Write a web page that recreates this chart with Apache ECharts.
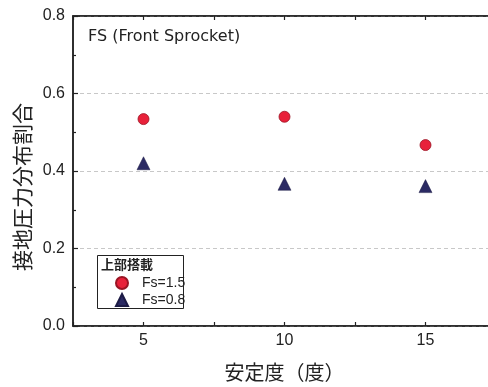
<!DOCTYPE html>
<html>
<head>
<meta charset="utf-8">
<script src="https://cdn.jsdelivr.net/npm/echarts@6/dist/echarts.min.js"></script>
<style>
  html, body { margin: 0; padding: 0; background: #fff; }
  #chart { width: 488px; height: 387px; }
</style>
</head>
<body>
<div id="chart"></div>
<script>
// Stability (degrees) on the x axis
const stability = [5, 10, 15];
// Contact pressure distribution ratio for each upper-load case
const fs15 = [0.534, 0.540, 0.467];
const fs08 = [0.420, 0.367, 0.361];
const seriesNames = ['Fs=1.5', 'Fs=0.8'];
const xLabelValues = [5, 10, 15];

const latin = '"Liberation Sans", Arial, sans-serif';
const cjk = '"Noto Sans CJK JP", sans-serif';
const ink = '#222';

const chart = echarts.init(document.getElementById('chart'));

// Shared settings for the bottom and top frame axes
const frameX = {
  type: 'value', min: 2.5, max: 17.5, interval: 2.5,
  splitLine: { show: false },
  axisLine: { show: true, onZero: false, lineStyle: { color: ink, width: 1.5 } },
  axisTick: { show: true, inside: true, length: 4, lineStyle: { color: ink, width: 1.2 } }
};

chart.setOption({
  animation: false,
  backgroundColor: '#fff',
  title: [
    {
      text: 'FS (Front Sprocket)', left: 88, top: 29, padding: 0,
      textStyle: { color: ink, fontSize: 16, fontWeight: 'normal', fontFamily: '"DejaVu Sans", sans-serif' }
    },
    {
      text: '上部搭載', left: 101, top: 258, padding: 0, z: 6,
      textStyle: { color: ink, fontSize: 13, fontWeight: 'bold', fontFamily: cjk }
    }
  ],
  // framed plot area; it runs past the right edge of the canvas
  grid: {
    left: 73, top: 16, width: 423, bottom: 61, outerBoundsMode: 'none',
    show: true, borderColor: ink, borderWidth: 1.5, backgroundColor: 'transparent'
  },
  xAxis: [
    Object.assign({}, frameX, {
      position: 'bottom',
      name: '安定度（度）',
      nameLocation: 'middle', nameGap: 36, nameMoveOverlap: false,
      nameTextStyle: { color: ink, fontSize: 20, fontFamily: cjk },
      axisLabel: {
        color: ink, fontSize: 16, fontFamily: latin, margin: 7,
        formatter: v => (xLabelValues.indexOf(v) >= 0 ? String(v) : '')
      }
    }),
    Object.assign({}, frameX, {
      position: 'top',
      axisLabel: { show: false }
    })
  ],
  yAxis: {
    type: 'value', min: 0, max: 0.8, interval: 0.2,
    name: '接地圧力分布割合',
    nameLocation: 'middle', nameRotate: 90, nameGap: 40, nameMoveOverlap: false,
    nameTextStyle: { color: ink, fontSize: 21, fontFamily: cjk, padding: [0, 32, 0, 0] },
    axisLine: { show: true, onZero: false, lineStyle: { color: ink, width: 1.5 } },
    axisTick: { show: true, inside: true, length: 5, lineStyle: { color: ink, width: 1.2 } },
    minorTick: { show: true, splitNumber: 2, length: 3, lineStyle: { color: ink, width: 1.2 } },
    axisLabel: {
      color: ink, fontSize: 16, fontFamily: latin, margin: 8,
      formatter: v => v.toFixed(1)
    },
    splitLine: { show: true, lineStyle: { color: '#c8c8c8', type: [4, 3], width: 1 } }
  },
  legend: {
    orient: 'vertical',
    left: 110, top: 271,
    itemWidth: 12, itemHeight: 12, itemGap: 3,
    data: seriesNames,
    textStyle: { color: ink, fontSize: 14, lineHeight: 14, fontFamily: latin, padding: [0, 0, 0, 9] },
    z: 5
  },
  series: [
    {
      name: seriesNames[0], type: 'scatter',
      symbol: 'circle', symbolSize: 11,
      itemStyle: { color: '#e8213a', borderColor: '#9a1424', borderWidth: 0.8, opacity: 1 },
      data: stability.map((x, i) => [x, fs15[i]])
    },
    {
      name: seriesNames[1], type: 'scatter',
      symbol: 'triangle', symbolSize: 13,
      itemStyle: { color: '#2b2a63', borderColor: '#1c1b45', borderWidth: 0.5, opacity: 1 },
      data: stability.map((x, i) => [x, fs08[i]])
    }
  ],
  graphic: [
    {
      type: 'rect', z: 1,
      shape: { x: 97.5, y: 255.5, width: 86, height: 53 },
      style: { fill: '#fff', stroke: ink, lineWidth: 1 }
    }
  ]
});
</script>
</body>
</html>
